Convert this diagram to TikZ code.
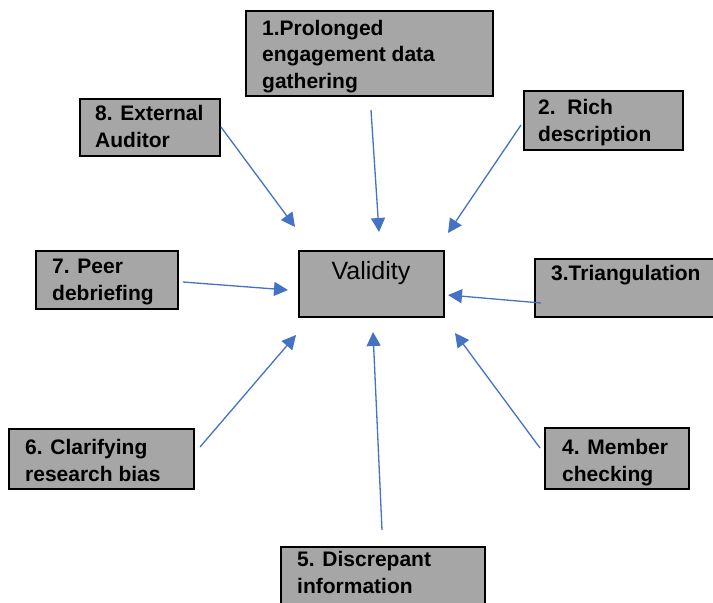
\documentclass[tikz,border=0pt]{standalone}
\usepackage{fontspec}
\setmainfont{Liberation Sans}
\usetikzlibrary{arrows.meta,calc}
\definecolor{boxgray}{HTML}{A6A6A6}
\definecolor{arrowblue}{HTML}{4472C4}
\tikzset{
  box/.style={draw=black, fill=boxgray, line width=2pt, inner sep=0pt, rectangle},
  % anchored at the baseline of the last line
  lbl/.style={inner sep=0pt, align=left, anchor=base west,
    font=\fontsize{21}{26.5}\selectfont\bfseries},
  vlbl/.style={inner sep=0pt, anchor=base, font=\fontsize{25}{30}\selectfont},
  link/.style={draw=arrowblue, line width=1.3pt,
    -{Triangle[length=14pt, width=14pt]}}
}
% rectangle node given its two border corners
\newcommand{\boxat}[3]{%
  \path let \p1=#2, \p2=#3 in
    node[box, minimum width={\x2-\x1}, minimum height={\y1-\y2}]
    (#1) at ($(\p1)!0.5!(\p2)$) {};}
\begin{document}
\begin{tikzpicture}[x=1pt, y=-1pt]
\useasboundingbox (0,0) rectangle (713,603);

% boxes
\boxat{b1}{(246,11)}{(493,96)}
\boxat{b2}{(524,91)}{(683,150)}
\boxat{b8}{(80,99)}{(220,156)}
\boxat{b7}{(36,251)}{(178,309)}
\boxat{val}{(299,251)}{(444,317)}
\boxat{b3}{(535,259)}{(722,317)}
\boxat{b6}{(9,429)}{(194,489)}
\boxat{b4}{(545,428)}{(689,489)}
\boxat{b5}{(281,547)}{(485,612)}

% labels
\node[lbl] (t1) at (262,88) {1.Prolonged\\engagement data\\gathering};
\node[lbl] (t2) at (538,141) {2.\ \ Rich\\description};
\node[lbl] (t3) at (551,280) {3.Triangulation};
\node[lbl] (t4) at (562,481) {4. Member\\checking};
\node[lbl] (t5) at (297,593) {5. Discrepant\\information};
\node[lbl] (t6) at (25,481) {6. Clarifying\\research bias};
\node[lbl] (t7) at (52,300) {7. Peer\\debriefing};
\node[lbl] (t8) at (95,147) {8. External\\Auditor};
\node[vlbl] (tv) at (371,279) {Validity};

% arrow ends
\coordinate (s1) at (371,110);  \coordinate (e1) at (379,232);
\coordinate (s2) at (521,125);  \coordinate (e2) at (448,233);
\coordinate (s3) at (541,303);  \coordinate (e3) at (448,295);
\coordinate (s4) at (540,448);  \coordinate (e4) at (455,333);
\coordinate (s5) at (382,530);  \coordinate (e5) at (373,332);
\coordinate (s6) at (200,447);  \coordinate (e6) at (296,335);
\coordinate (s7) at (183,282);  \coordinate (e7) at (288,290);
\coordinate (s8) at (221,127);  \coordinate (e8) at (295,227);

\foreach \i in {1,...,8} \draw[link] (s\i) -- (e\i);
\end{tikzpicture}
\end{document}
